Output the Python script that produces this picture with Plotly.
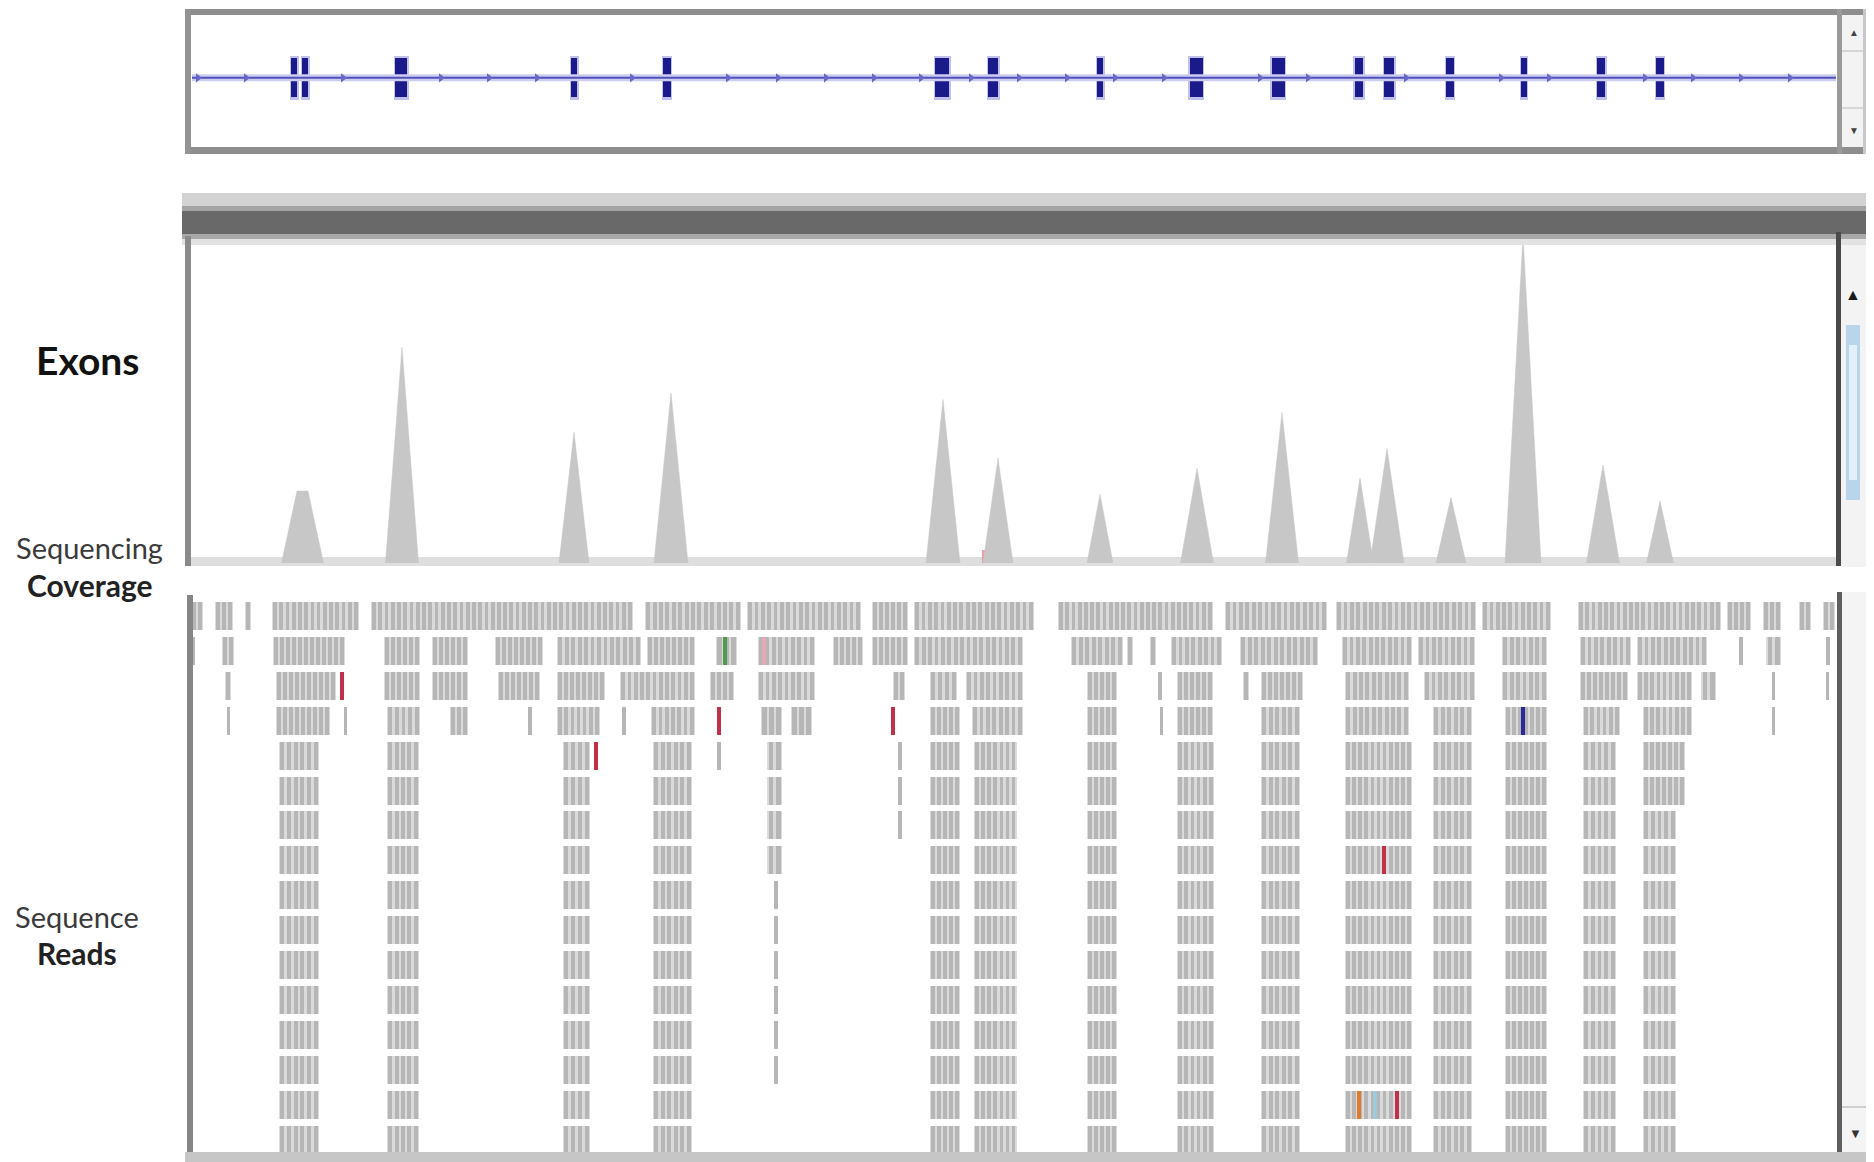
import plotly.graph_objects as go

W, H = 1874, 1162          # page size
OFF = 8                    # default page margin around the plot div
FW, FH = W - OFF, H - OFF  # figure size so that figure covers the page exactly

# ---------------- data (positions in kb from the start of the 66 kb window) ----------------
region = [0.0, 66.0]
gene_span = [0.12, 65.88]

exon_center = [4.20, 4.64, 8.48, 15.40, 19.12, 30.12, 32.16, 36.44, 40.28, 43.56,
               46.80, 48.00, 50.44, 53.40, 56.48, 58.84]
exon_length = [0.24, 0.24, 0.48, 0.24, 0.30, 0.56, 0.40, 0.24, 0.52, 0.52,
               0.34, 0.40, 0.30, 0.22, 0.32, 0.30]
strand_arrow_pos = [0.36, 2.28, 6.16, 10.08, 12.00, 13.92, 17.72, 21.56, 23.56, 25.48,
                    27.40, 29.28, 31.28, 33.20, 35.12, 37.04, 39.00, 42.84, 44.76, 48.68,
                    52.48, 54.40, 58.24, 60.16, 62.08, 64.04]

# coverage peaks (relative depth, % of max)
cov_center = [4.54, 8.52, 15.40, 19.28, 30.16, 32.36, 36.44, 40.32, 43.72,
              46.84, 47.92, 50.48, 53.36, 56.56, 58.84]
cov_depth = [22, 66, 40, 52, 50, 32, 21, 29, 46, 26, 35, 20, 100, 30, 19]
cov_halfwidth = [0.62, 0.66, 0.60, 0.68, 0.68, 0.60, 0.52, 0.66, 0.66,
                 0.54, 0.68, 0.60, 0.72, 0.66, 0.54]
cov_plateau = [0.44, 0, 0, 0, 0, 0, 0, 0, 0, 0, 0, 0, 0, 0, 0]
cov_allele_pos = [8.92, 31.80]
cov_allele_depth = [7, 4]
cov_allele_color = ["#8a8ae6", "#e8a0a8"]

# aligned read blocks: start kb, end kb, first row, last row (row 0 = top)
read_start = [0.08, 1.04, 2.24, 3.32, 7.28, 18.24, 22.32, 27.32, 29.00, 34.76, 41.44, 45.88, 51.72, 55.56, 61.52, 62.96, 64.40, 65.36,
              0.08, 1.32, 3.36, 7.80, 9.72, 12.24, 14.72, 18.32, 21.08, 22.76, 25.76, 27.32, 29.00, 35.28, 37.52, 38.44, 39.28, 42.04, 46.12, 49.16, 52.52, 55.64, 57.92, 62.00, 63.08, 65.48,
              1.44, 3.48, 7.80, 9.72, 12.36, 14.72, 17.24, 20.84, 22.76, 28.16, 29.64, 31.08, 35.92, 38.76, 39.52, 42.16, 42.88, 46.24, 49.40, 52.52, 55.64, 57.92, 60.48, 63.32, 65.48,
              1.52, 3.48, 6.20, 7.92, 10.44, 13.56, 14.72, 17.32, 18.48, 22.88, 24.08, 29.64, 31.32, 35.92, 38.84, 39.52, 42.88, 46.24, 49.76, 52.64, 55.76, 58.16, 63.32,
              3.60, 7.92, 14.96, 18.56, 23.12, 23.40, 29.64, 31.40, 35.92, 39.52, 42.88, 46.24, 49.76, 52.64, 55.76, 58.16, 58.16, 28.36, 21.12]
read_end = [0.56, 1.76, 2.48, 6.80, 17.76, 22.08, 26.88, 28.76, 33.80, 40.96, 45.52, 51.48, 54.48, 61.28, 62.48, 63.68, 64.88, 65.84,
            0.24, 1.80, 6.24, 9.24, 11.16, 14.16, 18.08, 20.24, 21.92, 25.04, 26.96, 28.76, 33.36, 37.36, 37.76, 38.68, 41.32, 45.16, 48.92, 51.44, 54.32, 57.68, 60.72, 62.16, 63.68, 65.64,
            1.68, 5.88, 9.24, 11.16, 14.04, 16.64, 20.24, 21.80, 25.04, 28.64, 30.72, 33.36, 37.12, 38.92, 40.96, 42.40, 44.56, 48.80, 51.44, 54.32, 57.56, 60.12, 61.08, 63.44, 65.60,
            1.64, 5.64, 6.32, 9.24, 11.16, 13.72, 16.44, 17.48, 20.24, 23.72, 24.92, 30.84, 33.36, 37.12, 38.96, 40.96, 44.44, 48.80, 51.32, 54.32, 57.24, 60.12, 63.44,
            5.20, 9.20, 16.04, 20.12, 23.72, 23.56, 30.84, 33.10, 37.12, 41.00, 44.44, 48.92, 51.32, 54.32, 57.08, 59.84, 59.48, 28.52, 21.28]
read_row_first = [0] * 18 + [1] * 26 + [2] * 25 + [3] * 23 + \
                 [4, 4, 4, 4, 4, 8, 4, 4, 4, 4, 4, 4, 4, 4, 4, 4, 6, 4, 4]
read_row_last = [0] * 18 + [1] * 26 + [2] * 25 + [3] * 23 + \
                [15, 15, 15, 15, 7, 13, 15, 15, 15, 15, 15, 15, 15, 15, 15, 5, 15, 6, 4]

# mismatching bases: row, position, base (lower case = low quality)
mm_row = [1, 1, 2, 3, 3, 3, 4, 7, 14, 14, 14]
mm_pos = [21.44, 23.00, 6.12, 21.20, 28.16, 53.36, 16.28, 47.80, 46.80, 47.44, 48.32]
mm_base = ["A", "t", "T", "T", "T", "C", "T", "T", "G", "c", "T"]
base_color = {"A": "#4f9a4f", "C": "#2a2a9a", "G": "#e07b2e", "T": "#c0304a",
              "a": "#a8d0a8", "c": "#9fc9dc", "g": "#f0c090", "t": "#e6a8b4"}


# ---------------- page-pixel helpers ----------------
def px(x):
    return (x - OFF) / FW


def py(y):
    return 1 - (y - OFF) / FH


XD = [px(189), px(1839)]


def ydom(top_px, bot_px):
    return [py(bot_px), py(top_px)]


fig = go.Figure()

# exon track
fig.add_trace(go.Scatter(x=gene_span, y=[0, 0], mode="lines",
                         line=dict(color="#cdcdf0", width=7), xaxis="x", yaxis="y", hoverinfo="skip"))
fig.add_trace(go.Scatter(x=gene_span, y=[0, 0], mode="lines",
                         line=dict(color="#5050bc", width=2), xaxis="x", yaxis="y", hoverinfo="skip"))
fig.add_trace(go.Scatter(x=strand_arrow_pos, y=[0] * len(strand_arrow_pos), mode="markers",
                         marker=dict(symbol="triangle-right", size=8, color="#6868c6"),
                         xaxis="x", yaxis="y", hoverinfo="skip"))
fig.add_trace(go.Bar(x=exon_center, y=[0.62] * len(exon_center), base=[-0.31] * len(exon_center),
                     width=[w + 0.12 for w in exon_length], marker=dict(color="#8d8dd6", line=dict(width=0)),
                     opacity=0.55, xaxis="x", yaxis="y", hoverinfo="skip"))
fig.add_trace(go.Bar(x=exon_center, y=[0.56] * len(exon_center), base=[-0.28] * len(exon_center),
                     width=exon_length, marker=dict(color="#1a1a8a", line=dict(width=0)),
                     xaxis="x", yaxis="y", hoverinfo="skip"))

# coverage track
cx, cy = [], []
for c, h, w, p in zip(cov_center, cov_depth, cov_halfwidth, cov_plateau):
    cx += [c - p / 2 - w, c - p / 2, c + p / 2, c + p / 2 + w, None]
    cy += [0, h, h, 0, None]
fig.add_trace(go.Scatter(x=cx, y=cy, mode="lines", fill="toself", fillcolor="#c7c7c7",
                         line=dict(color="#c7c7c7", width=0.5), xaxis="x2", yaxis="y2", hoverinfo="skip"))
fig.add_trace(go.Bar(x=cov_allele_pos, y=cov_allele_depth, width=[0.2] * len(cov_allele_pos),
                     marker=dict(color=cov_allele_color, line=dict(width=0)),
                     xaxis="x2", yaxis="y2", hoverinfo="skip"))

# reads track
ROW_H = 0.80
STEP = 0.25
bg_x, bg_w, bg_b = [], [], []
st_x, st_w, st_b = [], [], []
for s, e, r0, r1 in zip(read_start, read_end, read_row_first, read_row_last):
    for r in range(r0, r1 + 1):
        base = r - ROW_H / 2
        L = e - s
        bg_x.append((s + e) / 2)
        bg_w.append(L)
        bg_b.append(base)
        if L < 0.35:
            st_x.append((s + e) / 2)
            st_w.append(min(L, 0.14))
            st_b.append(base)
        else:
            n = max(1, round(L / STEP))
            step = L / n
            for k in range(n):
                st_x.append(s + step * (k + 0.5))
                st_w.append(step * 0.6)
                st_b.append(base)
fig.add_trace(go.Bar(x=bg_x, y=[ROW_H] * len(bg_x), base=bg_b, width=bg_w,
                     marker=dict(color="#dadada", line=dict(width=0)), xaxis="x3", yaxis="y3", hoverinfo="skip"))
fig.add_trace(go.Bar(x=st_x, y=[ROW_H] * len(st_x), base=st_b, width=st_w,
                     marker=dict(color="#b6b6b6", line=dict(width=0)), xaxis="x3", yaxis="y3", hoverinfo="skip"))
fig.add_trace(go.Bar(x=mm_pos, y=[ROW_H] * len(mm_pos), base=[r - ROW_H / 2 for r in mm_row],
                     width=[0.17] * len(mm_pos), marker=dict(color=[base_color[b] for b in mm_base], line=dict(width=0)),
                     xaxis="x3", yaxis="y3", hoverinfo="skip"))

# ---------------- panel chrome ----------------
shapes = []


def rect(x0, y0, x1, y1, fill, layer="above"):
    shapes.append(dict(type="rect", xref="paper", yref="paper", x0=px(x0), x1=px(x1),
                       y0=py(y1), y1=py(y0), fillcolor=fill, line=dict(width=0), layer=layer))


# exon box
rect(185, 9, 1866, 15, "#8e8e8e")
rect(185, 147, 1866, 154, "#8e8e8e")
rect(185, 9, 191, 154, "#939393")
rect(1842, 15, 1866, 147, "#f3f3f3")
rect(1837, 9, 1842, 154, "#9a9a9a")
rect(1863, 9, 1866, 154, "#c8c8c8")
rect(1842, 50, 1863, 52, "#d6d6d6")
rect(1842, 107, 1863, 109, "#d6d6d6")

# coverage header bar
rect(182, 193, 1866, 210, "#d2d2d2")
rect(182, 206, 1866, 212, "#a4a4a4")
rect(182, 211, 1866, 234, "#696969")
rect(182, 234, 1866, 239, "#a9a9a9")
rect(182, 239, 1866, 245, "#e2e2e2")
# coverage baseline and borders
rect(189, 557, 1837, 566, "#dedede", layer="below")
rect(185, 236, 191, 566, "#8a8a8a")
rect(1841, 245, 1866, 567, "#f3f3f3")
rect(1836, 232, 1841, 566, "#4a4a4a")
rect(1846, 325, 1860, 500, "#b9d5ec")
rect(1849, 345, 1857, 480, "#e3f0fa")

# reads panel borders
rect(187, 595, 193, 1160, "#858585")
rect(1837, 592, 1842, 1160, "#5e5e5e")
rect(1842, 592, 1868, 1160, "#f4f4f4")
rect(1842, 1106, 1868, 1108, "#d0d0d0")
rect(185, 1152, 1868, 1162, "#c6c6c6")

annotations = []


def label(text, x, y, size, bold=False, color="#1e1e1e"):
    annotations.append(dict(text=("<b>%s</b>" % text) if bold else text, x=px(x), y=py(y),
                            xref="paper", yref="paper", xanchor="center", yanchor="middle",
                            showarrow=False, font=dict(family="Lato, Open Sans, sans-serif", size=size, color=color)))


label("Exons", 87, 360, 39, bold=True, color="#121212")
label("Sequencing", 89, 547, 29, color="#3a3a3a")
label("Coverage", 89, 585, 30, bold=True, color="#222222")
label("Sequence", 77, 916, 29, color="#3a3a3a")
label("Reads", 77, 953, 30, bold=True, color="#222222")
label("▲", 1854, 32, 10, color="#444444")
label("▼", 1854, 130, 10, color="#444444")
label("▲", 1853, 293, 16, color="#1a1a1a")
label("▼", 1855, 1133, 13, color="#333333")

ax_common = dict(visible=False, showgrid=False, zeroline=False, fixedrange=True)
fig.update_layout(
    width=FW, height=FH, margin=dict(l=0, r=0, t=0, b=0),
    paper_bgcolor="white", plot_bgcolor="rgba(0,0,0,0)",
    showlegend=False, barmode="overlay", bargap=0,
    xaxis=dict(domain=XD, range=region, anchor="y", **ax_common),
    yaxis=dict(domain=ydom(12, 152), range=[-1.06, 0.94], anchor="x", **ax_common),
    xaxis2=dict(domain=XD, range=region, anchor="y2", **ax_common),
    yaxis2=dict(domain=ydom(236, 563), range=[0, 100], anchor="x2", **ax_common),
    xaxis3=dict(domain=XD, range=region, anchor="y3", **ax_common),
    yaxis3=dict(domain=ydom(593, 1157), range=[15.50, -0.66], anchor="x3", **ax_common),
    shapes=shapes, annotations=annotations,
)

fig.write_html("out.html")
